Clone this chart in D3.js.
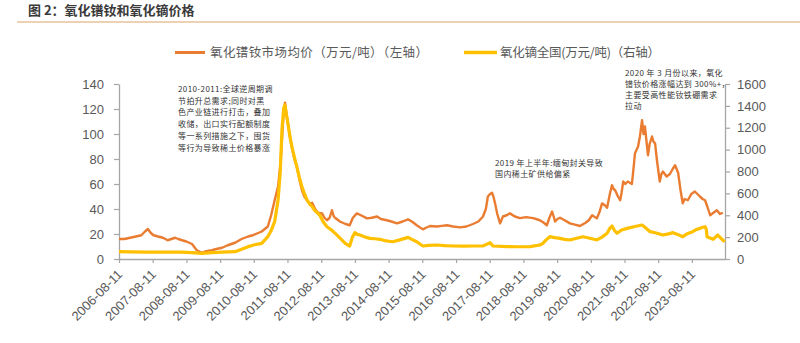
<!DOCTYPE html>
<html><head><meta charset="utf-8">
<script src="https://cdn.jsdelivr.net/npm/d3@7"></script>
<style>
html,body{margin:0;padding:0;background:#fff;}
svg{display:block;}
</style></head>
<body>
<svg id="c" width="800" height="343"></svg>
<script>
// ---- data ----
const prndDates = ["2006-08-11","2006-10-10","2006-12-10","2007-02-10","2007-04-10","2007-05-20","2007-06-20","2007-07-20","2007-08-20","2007-10-08","2007-12-01","2008-01-20","2008-03-01","2008-04-10","2008-05-15","2008-06-25","2008-08-10","2008-10-10","2008-11-10","2008-12-01","2009-01-25","2009-03-01","2009-05-15","2009-07-01","2009-09-01","2009-11-01","2010-01-20","2010-04-01","2010-06-10","2010-08-01","2010-11-05","2011-01-10","2011-02-15","2011-03-25","2011-05-01","2011-05-25","2011-06-12","2011-07-01","2011-07-15","2011-07-28","2011-08-15","2011-09-05","2011-09-28","2011-10-25","2011-11-20","2011-12-20","2012-01-15","2012-02-10","2012-03-10","2012-04-10","2012-05-05","2012-06-05","2012-07-05","2012-08-20","2012-09-15","2012-10-12","2012-11-10","2012-12-05","2012-12-25","2013-01-08","2013-03-01","2013-05-01","2013-06-15","2013-07-20","2013-09-01","2013-10-15","2013-12-20","2014-02-10","2014-04-08","2014-05-20","2014-07-22","2014-09-10","2014-11-10","2015-01-10","2015-03-10","2015-04-20","2015-06-12","2015-08-18","2015-09-20","2015-11-02","2016-01-15","2016-03-10","2016-05-05","2016-07-10","2016-09-25","2016-12-01","2017-02-10","2017-04-10","2017-05-30","2017-06-30","2017-07-22","2017-08-15","2017-09-05","2017-09-20","2017-10-08","2017-11-01","2017-12-01","2018-01-01","2018-02-10","2018-03-18","2018-05-10","2018-07-05","2018-09-10","2018-11-25","2019-02-05","2019-03-20","2019-04-22","2019-05-20","2019-06-18","2019-07-05","2019-07-20","2019-08-15","2019-09-12","2019-11-01","2019-12-28","2020-02-20","2020-04-15","2020-06-15","2020-07-20","2020-08-25","2020-10-15","2020-11-15","2020-12-10","2021-01-10","2021-02-03","2021-03-05","2021-03-28","2021-04-15","2021-05-01","2021-06-01","2021-06-25","2021-07-10","2021-07-28","2021-08-20","2021-09-15","2021-10-30","2021-11-20","2021-12-02","2022-01-05","2022-01-25","2022-02-17","2022-03-05","2022-03-20","2022-04-05","2022-04-22","2022-05-10","2022-06-05","2022-06-20","2022-07-08","2022-07-30","2022-08-28","2022-09-15","2022-10-01","2022-11-10","2022-12-16","2023-01-15","2023-02-10","2023-03-15","2023-04-10","2023-05-04","2023-05-25","2023-06-28","2023-08-05","2023-09-12","2023-10-10","2023-11-06","2023-12-05","2024-01-01","2024-01-25","2024-02-25","2024-04-01","2024-05-08","2024-06-10","2024-07-12"];
const prndValues = [16,16,17,18,19,22,24,21,19,18,17,15,16,17,16,15,14,12,9,7,5,6,7,8,9,11,13,16,18,19,22,26,35,47,58,75,95,118,125,118,109,98,89,80,74,63,55,50,47,44,45,40,37,36.5,33,31,33,39,34,33,30,28,27,33,36.5,35,32.5,33,34,32,31,30,28.5,30,31.7,30,27,23.7,25,26.4,26,26.5,27,26,25.3,26,28,30,34,40,50,52,53,50,44.5,36,28.5,34,35,36.5,34,32.7,33.5,32.7,31,29,27,33,38,34,30,32,33,31,28.5,27.5,26.4,29,31,35,32.5,38,44.5,43,41,52,59,56,55,50,47,53,62,60,62,60,75,84.5,90,98,111,100,106,95,83,92,98,94,92.5,78,62,68,70,66,68,72,75,69,55,44.5,48,47,52,54,52,50,48,47,42,35,37,39,36,37];

const dyDates = ["2006-08-11","2006-12-10","2007-06-10","2007-12-10","2008-06-10","2008-10-10","2009-01-25","2009-05-15","2009-09-01","2010-01-20","2010-04-01","2010-06-10","2010-08-20","2010-11-05","2011-01-10","2011-02-15","2011-03-25","2011-05-01","2011-05-25","2011-06-12","2011-07-01","2011-07-15","2011-07-28","2011-08-15","2011-09-05","2011-09-28","2011-10-25","2011-11-20","2011-12-20","2012-01-15","2012-02-10","2012-03-10","2012-04-10","2012-05-05","2012-06-05","2012-07-05","2012-07-25","2012-09-01","2012-10-12","2012-11-30","2013-01-15","2013-03-05","2013-05-01","2013-06-15","2013-07-15","2013-08-10","2013-09-05","2013-10-05","2013-12-01","2014-01-22","2014-03-15","2014-05-10","2014-07-15","2014-09-25","2014-12-10","2015-03-10","2015-04-20","2015-06-12","2015-07-20","2015-08-18","2015-10-15","2016-01-18","2016-04-10","2016-07-08","2016-11-01","2017-02-10","2017-06-01","2017-08-15","2017-09-15","2018-02-15","2018-06-10","2018-10-22","2019-02-05","2019-03-10","2019-04-15","2019-05-25","2019-07-15","2019-09-12","2019-11-01","2019-12-28","2020-03-10","2020-05-18","2020-08-01","2020-10-15","2020-12-10","2021-02-03","2021-03-05","2021-03-28","2021-04-25","2021-05-22","2021-07-10","2021-09-08","2021-11-20","2022-02-17","2022-03-20","2022-05-15","2022-07-10","2022-10-01","2022-12-01","2023-01-18","2023-03-10","2023-05-04","2023-06-20","2023-08-20","2023-10-01","2023-11-06","2023-12-05","2024-01-01","2024-01-15","2024-01-22","2024-03-28","2024-05-18","2024-06-20","2024-08-01"];
const dyValues = [67,65,62,64,62,58,52,58,62,67,90,113,130,143,204,260,341,539,800,1180,1380,1408,1330,1243,1130,1027,930,844,740,661,600,540,500,478,440,418,402,340,295,265,230,189,140,119,200,241,225,219,200,189,185,180,165,158,175,198,180,158,135,119,125,128,122,119,118,119,120,149,119,113,112,113,128,143,175,204,195,189,180,174,190,204,190,174,200,235,280,302,260,235,265,280,295,311,290,250,240,219,230,241,225,204,230,250,270,280,290,295,270,204,180,219,190,158];

const leftTicks = [0,20,40,60,80,100,120,140];
const rightTicks = [0,200,400,600,800,1000,1200,1400,1600];
const xTickLabels = ["2006-08-11","2007-08-11","2008-08-11","2009-08-11","2010-08-11","2011-08-11","2012-08-11","2013-08-11","2014-08-11","2015-08-11","2016-08-11","2017-08-11","2018-08-11","2019-08-11","2020-08-11","2021-08-11","2022-08-11","2023-08-11"];

const titleText = "图 2：氧化镨钕和氧化镝价格";
const legendLabels = ["氧化镨钕市场均价（万元/吨）（左轴）","氧化镝全国(万元/吨)（右轴）"];
const note1 = ["2010-2011:全球逆周期调","节拍升总需求;同时对黑","色产业链进行打击，叠加","收储，出口实行配额制度","等一系列措施之下，囤货","等行为导致稀土价格暴涨"];
const note2 = ["2019 年上半年:缅甸封关导致","国内稀土矿供给偏紧"];
const note3 = ["2020 年 3 月份以来，氧化","镨钕价格涨幅达到 300%+，","主要受高性能钕铁硼需求","拉动"];

// ---- drawing ----
const parse = d3.timeParse("%Y-%m-%d");
const svg = d3.select("#c");
const cjk = "'Noto Sans CJK SC', sans-serif";
const num = "'Liberation Sans', Arial, sans-serif";
const axisCol = "#A6A6A6", labCol = "#595959";
const cOr = "#E97C30", cYe = "#FFC000";

const x = d3.scaleTime().domain([parse("2006-08-11"), parse("2024-08-04")]).range([119, 725]);
const yL = d3.scaleLinear().domain([0,140]).range([259,84]);
const yR = d3.scaleLinear().domain([0,1600]).range([259,84]);

// title
svg.append("text").attr("x",28).attr("y",14.5).text(titleText)
  .style("font-family",cjk).style("font-size","13px").style("font-weight","bold").attr("fill","#3a3a3a");
svg.append("line").attr("x1",17).attr("x2",800).attr("y1",22).attr("y2",22)
  .attr("stroke","#E6C29B").attr("stroke-width",1.5);

// legend
svg.append("line").attr("x1",175).attr("x2",205).attr("y1",52.5).attr("y2",52.5).attr("stroke",cOr).attr("stroke-width",3);
svg.append("text").attr("x",210).attr("y",57).text(legendLabels[0]).attr("textLength",218).attr("lengthAdjust","spacing")
  .style("font-family",cjk).style("font-size","12.5px").attr("fill",labCol);
svg.append("line").attr("x1",464).attr("x2",497).attr("y1",52.5).attr("y2",52.5).attr("stroke",cYe).attr("stroke-width",3.5);
svg.append("text").attr("x",500).attr("y",57).text(legendLabels[1]).attr("textLength",160).attr("lengthAdjust","spacing")
  .style("font-family",cjk).style("font-size","12.5px").attr("fill",labCol);

// axes
const gL = svg.append("g").attr("transform","translate(119,0)")
  .call(d3.axisLeft(yL).tickValues(leftTicks).tickSize(5).tickSizeOuter(0).tickPadding(10).tickFormat(d3.format("d")));
const gR = svg.append("g").attr("transform","translate(725,0)")
  .call(d3.axisRight(yR).tickValues(rightTicks).tickSize(5).tickSizeOuter(0).tickPadding(7).tickFormat(d3.format("d")));
const xTickDates = xTickLabels.map(parse);
const gX = svg.append("g").attr("transform","translate(0,259)")
  .call(d3.axisBottom(x).tickValues(xTickDates).tickSize(4).tickSizeOuter(0).tickFormat(""));
[gL,gR,gX].forEach(g=>{
  g.select(".domain").attr("stroke",axisCol).attr("stroke-width",1.3);
  g.selectAll(".tick line").attr("stroke",axisCol).attr("stroke-width",1.2);
  g.selectAll("text").style("font-family",num).style("font-size","13px").attr("fill",labCol);
});
svg.append("g").selectAll("text").data(xTickDates).join("text")
  .attr("transform",(d)=>`translate(${x(d)+1},272) rotate(-45)`)
  .attr("text-anchor","end").attr("dy","0.35em")
  .style("font-family",num).style("font-size","13px").attr("fill",labCol)
  .text((d,i)=>xTickLabels[i]);

// lines
const prnd = prndDates.map((d,i)=>({date:parse(d), v:prndValues[i]}));
const dy = dyDates.map((d,i)=>({date:parse(d), v:dyValues[i]}));
svg.append("path").datum(prnd).attr("fill","none").attr("stroke",cOr).attr("stroke-width",2.4).attr("stroke-linejoin","round")
  .attr("d", d3.line().x(d=>x(d.date)).y(d=>yL(d.v)));
svg.append("path").datum(dy).attr("fill","none").attr("stroke",cYe).attr("stroke-width",3.2).attr("stroke-linejoin","round")
  .attr("d", d3.line().x(d=>x(d.date)).y(d=>yR(d.v)));

// annotations
function note(lines, x0, y0, lh){
  const t = svg.append("text").style("font-family",cjk).style("font-size","8px").attr("fill","#333").style("letter-spacing","0.4px");
  lines.forEach((s,i)=>t.append("tspan").attr("x",x0).attr("y",y0+i*lh).text(s));
}
note(note1, 178, 92, 11.7);
note(note2, 495, 166, 11);
note(note3, 625, 76, 11);
</script>
</body></html>
